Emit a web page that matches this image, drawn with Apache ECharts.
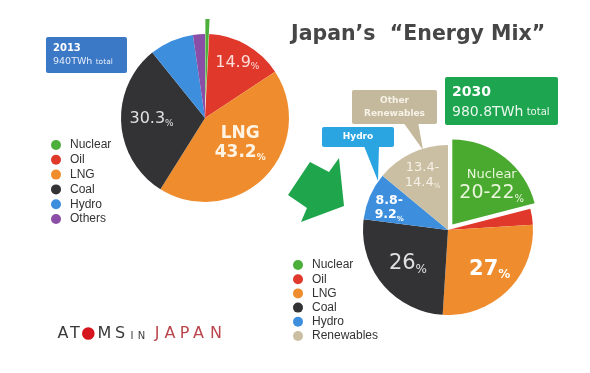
<!DOCTYPE html>
<html>
<head>
<meta charset="utf-8">
<script src="https://cdn.jsdelivr.net/npm/echarts@6/dist/echarts.min.js"></script>
<style>html,body{margin:0;padding:0;background:#fff;}#c{width:590px;height:373px;}</style>
</head>
<body>
<div id="c"></div>
<script>
// ---- data ----
const names2013 = ['Nuclear', 'Oil', 'LNG', 'Coal', 'Hydro', 'Others'];
const values2013 = [0.8, 14.9, 43.2, 30.3, 8.5, 2.3];
const labels2013 = ['', '14.9', '43.2', '30.3', '', ''];

const names2030 = ['Nuclear', 'Oil', 'LNG', 'Coal', 'Hydro', 'Renewables'];
const values2030 = [21, 3, 27, 26, 9, 14];
const labels2030 = ['20-22', '', '27', '26', '8.8-\n9.2', '13.4-\n14.4'];

const title = 'Japan\u2019s  \u201CEnergy Mix\u201D';
const total2013 = ['2013', '940TWh', 'total'];
const total2030 = ['2030', '980.8TWh', 'total'];

// ---- styles ----
const colors2013 = ['#4caf3a', '#e0392c', '#ef8d2e', '#333234', '#3d8fde', '#8b4ea6'];
const colors2030 = ['#49aa2f', '#e0392c', '#ef8d2e', '#333234', '#3d8fde', '#cbbfa3'];
const FONT = 'DejaVu Sans';

function shift(dx, dy) {
  return [Math.max(2 * dy, 0), Math.max(-2 * dx, 0), Math.max(-2 * dy, 0), Math.max(2 * dx, 0)];
}
function multi(v) {
  return v.split('\n').map((s, i, a) => i < a.length - 1 ? '{v|' + s + '}' : '{v|' + s + '}{p|%}').join('\n');
}

const leftLabelStyle = [
  null,
  { fmt: v => '{v|' + v + '}{p|%}', color: '#fcdcd8', size: 16, bold: false, sh: shift(10, -16.5) },
  { fmt: v => '{b|LNG}\n{v|' + v + '}{p|%}', color: '#fff4e4', size: 17, bold: true, sh: shift(3, -6) },
  { fmt: v => '{v|' + v + '}{p|%}', color: '#e2e2e2', size: 16, bold: false, sh: shift(-8.5, -1.5) },
  null, null
];
const rightLabelStyle = [
  { fmt: v => '{n|Nuclear}\n{v|' + v + '}{p|%}', color: '#eaf6dc', size: 19, bold: false, sh: shift(11.5, -3.5) },
  null,
  { fmt: v => '{v|' + v + '}{p|%}', color: '#ffffff', size: 21, bold: true, sh: shift(9.5, 7) },
  { fmt: v => '{v|' + v + '}{p|%}', color: '#e0e0e0', size: 21, bold: false, sh: shift(-5, 5) },
  { fmt: multi, color: '#ffffff', size: 12.5, bold: true, sh: shift(-17, -4) },
  { fmt: multi, color: '#f6f1e6', size: 13, bold: false, sh: shift(-6, -14) }
];

function buildData(names, values, labels, colors, styles, selIdx) {
  return names.map((n, i) => {
    const st = styles[i];
    const item = { name: n, value: values[i], itemStyle: { color: colors[i] } };
    if (i === selIdx) item.selected = true;
    if (st) {
      item.label = {
        show: true,
        position: 'inside',
        formatter: st.fmt(labels[i]),
        padding: st.sh,
        align: 'center',
        rich: {
          v: { fontFamily: FONT, fontSize: st.size, color: st.color, fontWeight: st.bold ? 'bold' : 'normal', lineHeight: st.size + 2, align: 'center' },
          p: { fontFamily: FONT, fontSize: Math.round(st.size * 0.55), color: st.color, fontWeight: st.bold ? 'bold' : 'normal', verticalAlign: 'bottom', lineHeight: st.size + 2 },
          b: { fontFamily: FONT, fontSize: st.size, color: st.color, fontWeight: 'bold', lineHeight: st.size + 2, align: 'center' },
          n: { fontFamily: FONT, fontSize: 13, color: st.color, lineHeight: 17, align: 'center' }
        }
      };
    } else {
      item.label = { show: false };
    }
    return item;
  });
}

const legendText = { fontFamily: 'Liberation Sans', fontSize: 12, color: '#333', lineHeight: 12, padding: [0, 0, 0, 4] };

const logoLetters = [
  { t: 'A', x: 63, c: '#3a3a3a', s: 16 }, { t: 'T', x: 75, c: '#3a3a3a', s: 16 },
  { t: 'M', x: 104.5, c: '#3a3a3a', s: 16 }, { t: 'S', x: 120, c: '#3a3a3a', s: 16 },
  { t: 'I', x: 132, c: '#3a3a3a', s: 10 }, { t: 'N', x: 141.5, c: '#3a3a3a', s: 10 },
  { t: 'J', x: 157, c: '#b9464c', s: 16 }, { t: 'A', x: 170, c: '#b9464c', s: 16 },
  { t: 'P', x: 184.5, c: '#b9464c', s: 16 }, { t: 'A', x: 198.5, c: '#b9464c', s: 16 },
  { t: 'N', x: 216, c: '#b9464c', s: 16 }
];

const graphics = [
  // arrow
  { type: 'polygon', z: 10, shape: { points: [[310, 162], [329, 172], [339, 158], [344, 206], [301, 222], [307, 208], [288, 195]] }, style: { fill: '#1fa64c' } },
  // 2013 box
  { type: 'rect', z: 10, shape: { x: 46, y: 37, width: 81, height: 36, r: 2 }, style: { fill: '#3b78c6' } },
  { type: 'text', z: 11, x: 53, y: 48, style: { text: total2013[0], fill: '#fff', font: 'bold 10px "DejaVu Sans"', verticalAlign: 'middle' } },
  { type: 'text', z: 11, x: 53, y: 62, style: { text: '{a|' + total2013[1] + '} {b|' + total2013[2] + '}', verticalAlign: 'middle', rich: { a: { fontFamily: FONT, fontSize: 9.5, fill: '#e4ecf8' }, b: { fontFamily: FONT, fontSize: 7.5, fill: '#e4ecf8' } } } },
  // 2030 box
  { type: 'rect', z: 10, shape: { x: 445, y: 77, width: 113, height: 48, r: 2 }, style: { fill: '#1ea550' } },
  { type: 'text', z: 11, x: 452, y: 92, style: { text: total2030[0], fill: '#fff', font: 'bold 14px "DejaVu Sans"', verticalAlign: 'middle' } },
  { type: 'text', z: 11, x: 452, y: 112, style: { text: '{a|' + total2030[1] + '} {b|' + total2030[2] + '}', verticalAlign: 'middle', rich: { a: { fontFamily: FONT, fontSize: 14, fill: '#e9f7ec' }, b: { fontFamily: FONT, fontSize: 10, fill: '#e9f7ec' } } } },
  // Other renewables callout
  { type: 'polygon', z: 10, shape: { points: [[403, 122], [418, 122], [423, 150]] }, style: { fill: '#c5b99d' } },
  { type: 'rect', z: 10, shape: { x: 352, y: 90, width: 85, height: 34, r: 2 }, style: { fill: '#c5b99d' } },
  { type: 'text', z: 11, x: 394.5, y: 107, style: { text: 'Other\nRenewables', fill: '#f7f2e8', font: 'bold 9px "DejaVu Sans"', align: 'center', verticalAlign: 'middle', lineHeight: 13 } },
  // Hydro callout
  { type: 'polygon', z: 10, shape: { points: [[364, 146], [379, 146], [378, 181]] }, style: { fill: '#2aa5e2' } },
  { type: 'rect', z: 10, shape: { x: 322, y: 127, width: 72, height: 20, r: 2 }, style: { fill: '#2aa5e2' } },
  { type: 'text', z: 11, x: 358, y: 137, style: { text: 'Hydro', fill: '#fff', font: 'bold 9px "DejaVu Sans"', align: 'center', verticalAlign: 'middle' } },
  // logo
  { type: 'circle', z: 10, shape: { cx: 88.3, cy: 333.5, r: 6.3 }, style: { fill: '#d6141d' } }
].concat(logoLetters.map(l => ({
  type: 'text', z: 11, x: l.x, y: l.s > 12 ? 334 : 336, style: { text: l.t, fill: l.c, font: l.s + 'px "DejaVu Sans"', align: 'center', verticalAlign: 'middle' }
})));

const chart = echarts.init(document.getElementById('c'), null, { renderer: 'canvas' });
chart.setOption({
  animation: false,
  backgroundColor: '#ffffff',
  title: {
    text: title, left: 291, top: 24, padding: 0,
    textStyle: { fontFamily: FONT, fontWeight: 'bold', fontSize: 20.5, color: '#464646' }
  },
  legend: [
    { data: names2013, orient: 'vertical', left: 51, top: 139, padding: 0, icon: 'circle', itemWidth: 10, itemHeight: 10, itemGap: 2.8, textStyle: legendText, selectedMode: false },
    { data: names2030, orient: 'vertical', left: 293, top: 259, padding: 0, icon: 'circle', itemWidth: 10, itemHeight: 10, itemGap: 2.2, textStyle: legendText, selectedMode: false }
  ],
  graphic: graphics,
  series: [
    {
      type: 'pie', name: '2013', center: [205, 118], radius: 84,
      selectedMode: 'multiple', selectedOffset: 15,
      labelLine: { show: false },
      emphasis: { disabled: true },
      data: buildData(names2013, values2013, labels2013, colors2013, leftLabelStyle, 0)
    },
    {
      type: 'pie', name: '2030', center: [448, 230], radius: 85,
      selectedMode: 'multiple', selectedOffset: 7,
      labelLine: { show: false },
      emphasis: { disabled: true },
      data: buildData(names2030, values2030, labels2030, colors2030, rightLabelStyle, 0)
    }
  ]
});
</script>
</body>
</html>
